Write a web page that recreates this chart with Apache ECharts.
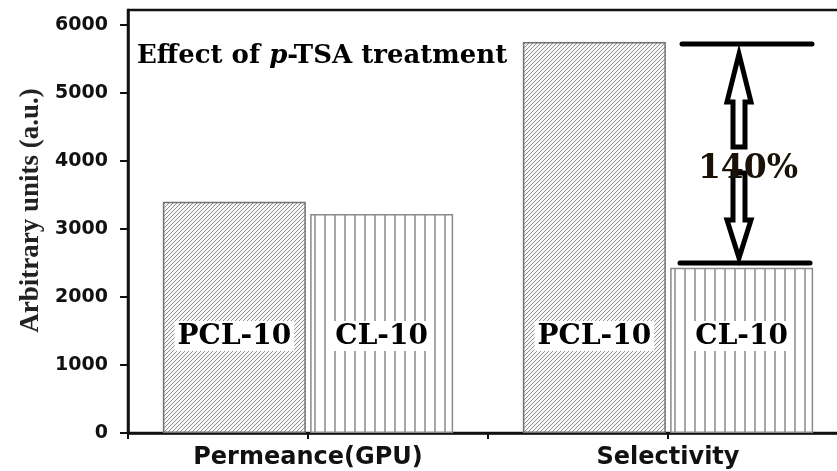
<!DOCTYPE html>
<html>
<head>
<meta charset="utf-8">
<script src="https://cdn.jsdelivr.net/npm/echarts@6/dist/echarts.min.js"></script>
<style>
  html, body { margin: 0; padding: 0; background: #fff; }
  #chart { width: 837px; height: 471px; }
</style>
</head>
<body>
<div id="chart"></div>
<script>
const categories = ['Permeance(GPU)', 'Selectivity']
const pclValues = [3400, 5750]
const clValues = [3220, 2430]
const yTicks = [0, 1000, 2000, 3000, 4000, 5000, 6000]
// before / after levels marked on the selectivity pair
const gainLevels = [5720, 2500]
const gainText = '140%'

const hatchPattern = () => {
  const c = document.createElement('canvas')
  c.width = 4
  c.height = 4
  const ctx = c.getContext('2d')
  ctx.fillStyle = '#f6f6f6'
  ctx.fillRect(0, 0, 4, 4)
  ctx.strokeStyle = '#939393'
  ctx.lineWidth = 1
  for (let x0 = -4; x0 <= 4; x0 += 4) {
    ctx.beginPath()
    ctx.moveTo(x0, 4)
    ctx.lineTo(x0 + 4, 0)
    ctx.stroke()
  }
  return c
}
const stripePattern = () => {
  const c = document.createElement('canvas')
  c.width = 10
  c.height = 10
  const ctx = c.getContext('2d')
  ctx.fillStyle = '#ffffff'
  ctx.fillRect(0, 0, 10, 10)
  ctx.fillStyle = '#a8a8a8'
  ctx.fillRect(4, 0, 2, 10)
  return c
}

const barLabel = {
  show: true,
  position: 'insideBottom',
  distance: 82,
  formatter: '{a}',
  color: '#000',
  fontFamily: 'DejaVu Serif',
  fontWeight: 'bold',
  fontSize: 28,
  backgroundColor: '#fff',
  padding: [2, 3, 0, 3]
}

const arrow = (x, tip, base, end) => {
  // hollow block arrow from tip to the end of its shaft
  return {
    type: 'polygon',
    shape: {
      points: [
        [x, tip],
        [x + 12, base],
        [x + 6, base],
        [x + 6, end],
        [x - 6, end],
        [x - 6, base],
        [x - 12, base]
      ]
    },
    style: { fill: '#fff', stroke: '#000', lineWidth: 5, lineJoin: 'miter' }
  }
}

const renderGain = (params, api) => {
  const top = api.coord([api.value(0), api.value(1)])
  const bot = api.coord([api.value(0), api.value(2)])
  const cx = top[0] + 78
  const ax = top[0] + 71
  const yT = top[1]
  const yB = bot[1]
  return {
    type: 'group',
    children: [
      { type: 'line', shape: { x1: cx - 64, y1: yT, x2: cx + 66, y2: yT }, style: { stroke: '#000', lineWidth: 5, lineCap: 'round' } },
      { type: 'line', shape: { x1: cx - 66, y1: yB, x2: cx + 64, y2: yB }, style: { stroke: '#000', lineWidth: 5, lineCap: 'round' } },
      arrow(ax, yT + 10, yT + 58, yT + 103),
      arrow(ax, yB - 5, yB - 43, yB - 90),
      {
        type: 'text',
        x: cx + 2,
        y: yT + 125,
        style: {
          text: gainText,
          fill: '#1a1208',
          font: 'bold 33px "DejaVu Serif"',
          align: 'center',
          verticalAlign: 'middle'
        }
      }
    ]
  }
}

const myChart = echarts.init(document.getElementById('chart'))
const option = {
  animation: false,
  title: {
    left: 132,
    top: 38,
    text: '{a|Effect of }{b|p}{a|-TSA treatment}',
    textStyle: {
      rich: {
        a: { fontFamily: 'DejaVu Serif', fontWeight: 'bold', fontSize: 26, color: '#000' },
        b: { fontFamily: 'DejaVu Serif', fontWeight: 'bold', fontStyle: 'italic', fontSize: 26, color: '#000' }
      }
    }
  },
  grid: {
    left: 128,
    right: -11,
    top: 10,
    bottom: 38,
    outerBoundsMode: 'none',
    show: true,
    borderColor: '#111',
    borderWidth: 2.5
  },
  xAxis: [
    {
      type: 'category',
      data: categories,
      position: 'bottom',
      axisLine: { lineStyle: { color: '#111', width: 2.5 } },
      axisTick: { show: true, alignWithLabel: true, length: 6, lineStyle: { color: '#111', width: 2 } },
      axisLabel: {
        margin: 13,
        color: '#111',
        fontFamily: 'DejaVu Sans',
        fontWeight: 'bold',
        fontSize: 24
      }
    },
    {
      type: 'category',
      data: categories,
      position: 'bottom',
      axisLine: { show: true, lineStyle: { color: 'rgba(0,0,0,0)' } },
      axisTick: { show: true, length: 6, lineStyle: { color: '#111', width: 2 } },
      axisLabel: { show: false }
    }
  ],
  yAxis: {
    type: 'value',
    min: 0,
    max: 6220,
    interval: 1000,
    name: 'Arbitrary units (a.u.)',
    nameLocation: 'middle',
    nameGap: 80,
    nameTextStyle: {
      fontFamily: 'Liberation Serif',
      fontWeight: 'bold',
      fontSize: 27,
      color: '#222',
      padding: [0, 0, 0, 22]
    },
    splitLine: { show: false },
    axisLine: { show: true, lineStyle: { color: '#111', width: 2.5 } },
    axisTick: { show: true, length: 8, customValues: yTicks, lineStyle: { color: '#111', width: 2 } },
    axisLabel: {
      customValues: yTicks,
      formatter: (v) => String(v),
      margin: 20,
      color: '#111',
      fontFamily: 'DejaVu Sans',
      fontWeight: 'bold',
      fontSize: 19
    }
  },
  series: [
    {
      name: 'PCL-10',
      type: 'bar',
      barWidth: 143,
      barGap: '3%',
      data: pclValues,
      itemStyle: {
        color: { image: hatchPattern(), repeat: 'repeat' },
        borderColor: '#707070',
        borderWidth: 1.5
      },
      label: barLabel
    },
    {
      name: 'CL-10',
      type: 'bar',
      barWidth: 143,
      data: clValues,
      itemStyle: {
        color: { image: stripePattern(), repeat: 'repeat' },
        borderColor: '#8a8a8a',
        borderWidth: 1.5
      },
      label: barLabel
    },
    {
      type: 'custom',
      silent: true,
      clip: false,
      z: 5,
      encode: { x: 0, y: [1, 2] },
      data: [[1, gainLevels[0], gainLevels[1]]],
      renderItem: renderGain
    }
  ]
}
myChart.setOption(option)
window.addEventListener('resize', () => {
  myChart.resize()
})
</script>
</body>
</html>
